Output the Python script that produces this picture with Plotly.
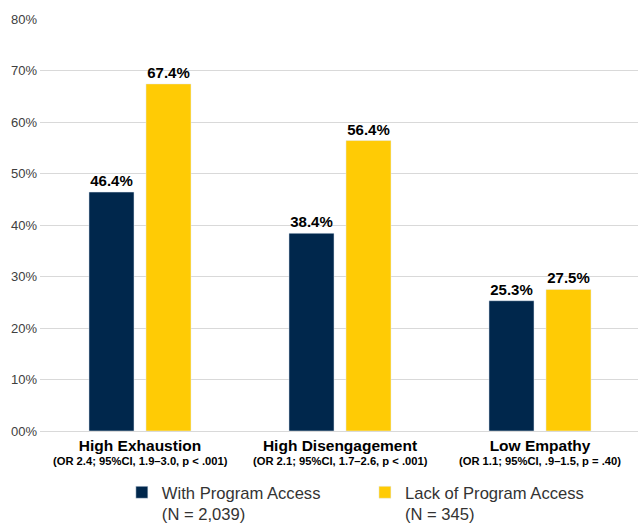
import plotly.graph_objects as go

categories = ["High Exhaustion", "High Disengagement", "Low Empathy"]
subtitles = ["(OR 2.4; 95%CI, 1.9–3.0, p < .001)",
             "(OR 2.1; 95%CI, 1.7–2.6, p < .001)",
             "(OR 1.1; 95%CI, .9–1.5, p = .40)"]
with_access = [46.4, 38.4, 25.3]
lack_access = [67.4, 56.4, 27.5]
series_names = ["With Program Access<br>(N = 2,039)", "Lack of Program Access<br>(N = 345)"]
tick_vals = [0, 10, 20, 30, 40, 50, 60, 70, 80]
tick_text = ["00%", "10%", "20%", "30%", "40%", "50%", "60%", "70%", "80%"]

ticklabels = [f"<b>{c}</b>" for c in categories]

fig = go.Figure()
for vals, name, color, lg in [(with_access, series_names[0], "#00274C", "legend"),
                              (lack_access, series_names[1], "#FFCB05", "legend2")]:
    fig.add_trace(go.Bar(
        x=categories, y=vals, name=name, marker_color=color, legend=lg,
        text=[f"<b>{v:.1f}%</b>" for v in vals], textposition="outside",
        textfont=dict(family="Arial", size=15, color="#000000"),
        cliponaxis=False,
    ))

for c, s in zip(categories, subtitles):
    fig.add_annotation(x=c, y=0, xref="x", yref="paper", yanchor="middle", yshift=-30,
                       text=f"<b>{s}</b>", showarrow=False,
                       font=dict(family="Arial", size=11.2, color="#000000"))

legend_common = dict(orientation="h", xanchor="left", yanchor="top", yref="container", xref="container",
                     font=dict(family="Arial", size=16.6, color="#333333"), valign="top",
                     bgcolor="rgba(0,0,0,0)")
fig.update_layout(
    width=638, height=526,
    margin=dict(l=40, r=0, t=19, b=95, autoexpand=False),
    paper_bgcolor="white", plot_bgcolor="white",
    barmode="group", bargap=0.43, bargroupgap=0.21,
    font=dict(family="Arial", color="#404040"),
    showlegend=True,
    legend=dict(x=0.191, y=0.097, **legend_common),
    legend2=dict(x=0.572, y=0.097, **legend_common),
)
fig.update_xaxes(range=[-0.5, 2.49], tickvals=categories, ticktext=ticklabels,
                 tickfont=dict(family="Arial", size=15.5, color="#000000"), showline=True,
                 linecolor="#d9d9d9", linewidth=1, ticks="", automargin=False)
fig.update_yaxes(range=[0, 80], tickvals=tick_vals, ticktext=tick_text,
                 tickfont=dict(family="Arial", size=13, color="#404040"),
                 showgrid=True, gridcolor="#d9d9d9", gridwidth=1, zeroline=False,
                 ticks="", ticklabelstandoff=2, automargin=False)

fig.write_html("out.html", post_script="document.body.style.margin='0px';",
               config={"displayModeBar": False})
